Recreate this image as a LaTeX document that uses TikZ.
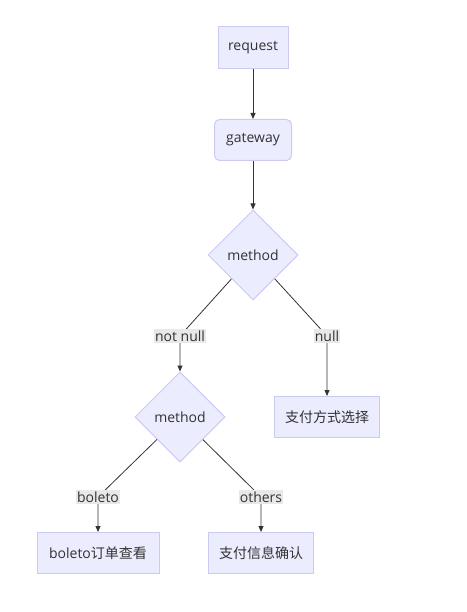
\documentclass[tikz,border=0pt]{standalone}
\usepackage{fontspec}
\setmainfont{Open Sans}
\newfontfamily\cjk{Noto Sans CJK SC}
\usetikzlibrary{shapes.geometric,arrows.meta}
\definecolor{nodefill}{HTML}{ECECFF}
\definecolor{nodeline}{HTML}{CACAF5}
\definecolor{txt}{HTML}{333333}
\definecolor{lblfill}{HTML}{E8E8E8}
\begin{document}
\begin{tikzpicture}[x=1pt,y=-1pt,
  every node/.style={font=\fontsize{14pt}{16pt}\selectfont, text=txt},
  boxnode/.style={draw=nodeline, fill=nodefill, line width=1pt, minimum height=41pt, inner sep=0pt},
  decision/.style={diamond, aspect=1, draw=nodeline, fill=nodefill, line width=1pt, minimum width=90pt, minimum height=90pt, inner sep=0pt},
  elabel/.style={fill=lblfill, inner xsep=1pt, inner ysep=1.5pt},
  conn/.style={draw=txt, line width=0.8pt, -{Triangle[length=6pt,width=5pt]}}
]
\useasboundingbox (0,0) rectangle (466,612);
\node[boxnode, minimum width=70pt, minimum height=42pt] (req) at (253,48) {request};
\node[boxnode, minimum width=77pt, rounded corners=5pt] (gw) at (253,140) {gateway};
\node[decision] (m1) at (253,255) {method};
\node[decision] (m2) at (180,417) {method};
\node[boxnode, minimum width=105pt] (sel) at (327,417) {\cjk 支付方式选择};
\node[boxnode, minimum width=122pt] (bol) at (98,553) {boleto\cjk 订单查看};
\node[boxnode, minimum width=105pt] (conf) at (261,553) {\cjk 支付信息确认};
\coordinate (c1) at (180,336);
\coordinate (c2) at (327,336);
\coordinate (c3) at (98,497);
\coordinate (c4) at (261,497);
\draw[conn] (req) -- (gw);
\draw[conn] (gw) -- (m1);
\draw[conn] (m1) -- (c1) -- (m2.north);
\draw[conn] (m1) -- (c2) -- (sel.north);
\draw[conn] (m2) -- (c3) -- (bol.north);
\draw[conn] (m2) -- (c4) -- (conf.north);
\node[elabel] (l1) at (c1) {not null};
\node[elabel] (l2) at (c2) {null};
\node[elabel] (l3) at (c3) {boleto};
\node[elabel] (l4) at (c4) {others};
\end{tikzpicture}
\end{document}
